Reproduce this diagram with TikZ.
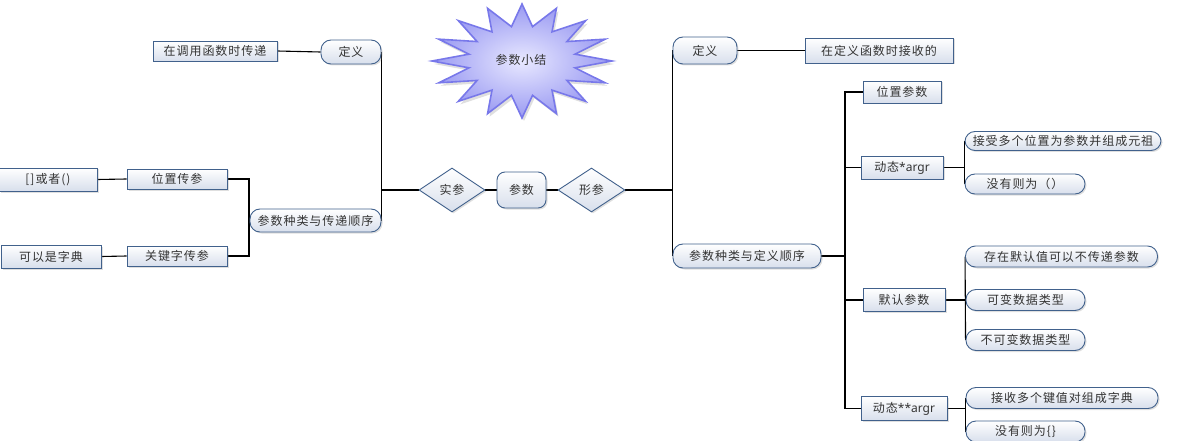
\documentclass[tikz,border=0pt]{standalone}
\usepackage{fontspec}
\setmainfont{Noto Sans CJK SC}[LetterSpace=8]
\newfontfamily\latfont{Noto Sans}
\usetikzlibrary{shapes.geometric,shadows,backgrounds}
\definecolor{bord}{HTML}{41618C}
\definecolor{fillb}{HTML}{D8DFEC}
\definecolor{txt}{HTML}{333333}
\definecolor{starin}{HTML}{E8E8FF}
\definecolor{starout}{HTML}{9A9AF2}
\definecolor{starline}{HTML}{7878EA}
\tikzset{
  every node/.style={font=\fontsize{12}{14}\selectfont, text=txt, inner sep=0pt},
  base/.style={draw=bord, line width=0.9pt, top color=white, bottom color=fillb,
    drop shadow={opacity=0.25, shadow xshift=1.5pt, shadow yshift=-1.5pt}},
  box/.style={base, rectangle},
  pill/.style={base, rectangle, rounded corners=10pt},
  dia/.style={base, diamond, aspect=1.5},
  conn/.style={line width=1.1pt, black},
}
\begin{document}
\begin{tikzpicture}[x=1pt,y=-1pt]
\useasboundingbox (0,0) rectangle (1181,441);
% starburst
\fill[black!25, opacity=0.5] plot[samples at={0,...,31}, variable=\i]
  ({524+ifthenelse(mod(\i,2)==0,90,54)*cos(\i*11.25)}, {64+ifthenelse(mod(\i,2)==0,57,35)*sin(\i*11.25)}) -- cycle;
\path[draw=starline, line width=1.6pt, inner color=starin, outer color=starout] plot[samples at={0,...,31}, variable=\i]
  ({522+ifthenelse(mod(\i,2)==0,90,54)*cos(\i*11.25)}, {61+ifthenelse(mod(\i,2)==0,57,35)*sin(\i*11.25)}) -- cycle;
\node (star) at (521,60) {参数小结};

% left side
\node[box, minimum width=124pt, minimum height=20pt] (Lcall) at (215,51) {在调用函数时传递};
\node[pill, minimum width=60pt, minimum height=24pt] (Ldef) at (351,52) {定义};
\node[pill, minimum width=131pt, minimum height=23pt] (Lorder) at (315.5,220.5) {参数种类与传递顺序};
\node[box, minimum width=100pt, minimum height=20pt] (Lpos) at (177,179) {位置传参};
\node[box, minimum width=100pt, minimum height=20pt] (Lkw) at (177,256) {关键字传参};
\node[box, minimum width=98pt, minimum height=23pt] (Lbr) at (48,179.5) {[]或者()};
\node[box, minimum width=100pt, minimum height=23pt] (Ldict) at (51,256.5) {可以是字典};

% center
\node[dia, minimum width=66pt, minimum height=44pt] (shi) at (452,190) {实参};
\node[base, rectangle, rounded corners=8pt, minimum width=49pt, minimum height=36pt] (can) at (521.5,190) {参数};
\node[dia, minimum width=67pt, minimum height=44pt] (xing) at (591.5,190) {形参};

% right side
\node[pill, minimum width=64pt, minimum height=27pt] (Rdef) at (705,50.5) {定义};
\node[box, minimum width=148pt, minimum height=25pt] (Rrecv) at (879,50.5) {在定义函数时接收的};
\node[pill, minimum width=148pt, minimum height=24pt] (Rorder) at (747,256) {参数种类与定义顺序};
\node[box, minimum width=78pt, minimum height=22pt] (pos) at (902,92) {位置参数};
\node[box, minimum width=82pt, minimum height=23pt] (dyn1) at (902,167.5) {动态{\latfont *argr}};
\node[box, minimum width=82pt, minimum height=23pt] (dflt) at (904,300) {默认参数};
\node[box, minimum width=86pt, minimum height=24pt] (dyn2) at (904,408.5) {动态{\latfont **argr}};

\node[pill, minimum width=196pt, minimum height=19pt] (a1) at (1063,141) {接受多个位置为参数并组成元祖};
\node[pill, minimum width=120pt, minimum height=20pt] (a2) at (1025,184) {没有则为（）};
\node[pill, minimum width=192pt, minimum height=21pt] (d1) at (1061.5,256.5) {存在默认值可以不传递参数};
\node[pill, minimum width=119pt, minimum height=21pt] (d2) at (1025.5,300) {可变数据类型};
\node[pill, minimum width=119pt, minimum height=21pt] (d3) at (1025.5,340) {不可变数据类型};
\node[pill, minimum width=192pt, minimum height=21pt] (k1) at (1062,398) {接收多个键值对组成字典};
\node[pill, minimum width=119pt, minimum height=21pt] (k2) at (1025.5,431.5) {没有则为\{\}};

\coordinate (jL) at (Ldef.east |- shi.west);
\coordinate (jR) at (Rdef.west |- xing.east);
\coordinate (bL) at (249,220.5);
\coordinate (bR) at (845,256);

\begin{scope}[on background layer]
\draw[conn] (Lcall.east) -- (Ldef.west);
\draw[conn] (Ldef.east) -- (Lorder.east);
\draw[conn] (jL) -- (shi.west);
\draw[conn] (shi.east) -- (can.west);
\draw[conn] (can.east) -- (xing.west);
\draw[conn] (xing.east) -- (jR);
\draw[conn] (Rdef.west) -- (Rorder.west);
\draw[conn] (Rdef.east) -- (Rrecv.west);
\draw[conn] (Lbr.east) -- (Lpos.west);
\draw[conn] (Ldict.east) -- (Lkw.west);
\draw[conn] (Lpos.east) -- (Lpos.east -| bL) -- (Lkw.east -| bL) -- (Lkw.east);
\draw[conn] (Lorder.west) -- (bL);
\draw[conn] (Rorder.east) -- (bR);
\draw[conn] (pos.west) -- (pos.west -| bR) -- (dyn2.west -| bR) -- (dyn2.west);
\draw[conn] (dyn1.west) -- (dyn1.west -| bR);
\draw[conn] (dflt.west) -- (dflt.west -| bR);
\draw[conn] (a1.west) -- (a2.west);
\draw[conn] (dyn1.east) -- (a1.west |- dyn1.east);
\draw[conn] (d1.west) -- (d3.west);
\draw[conn] (dflt.east) -- (d1.west |- dflt.east);
\draw[conn] (k1.west) -- (k2.west);
\draw[conn] (dyn2.east) -- (k1.west |- dyn2.east);
\end{scope}
\end{tikzpicture}
\end{document}
